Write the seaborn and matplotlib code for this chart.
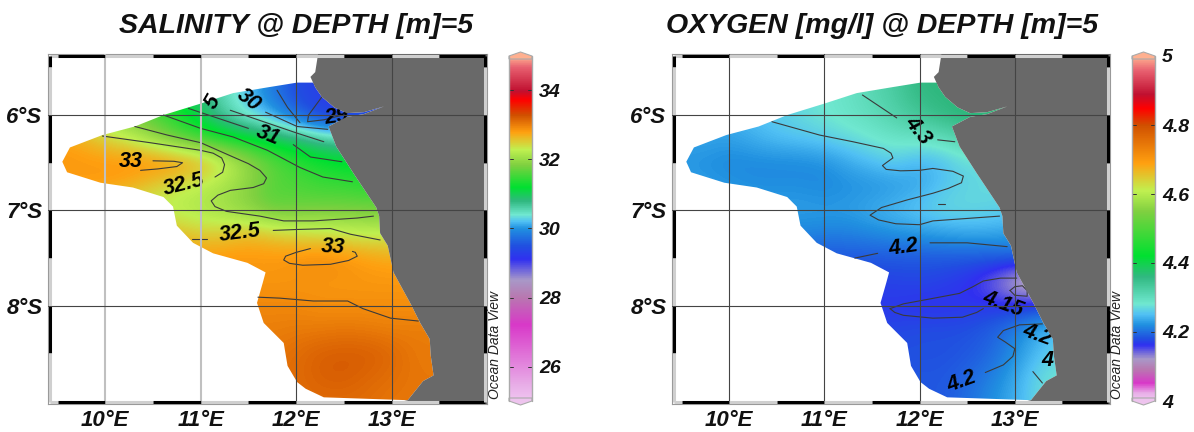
import numpy as np
import matplotlib
matplotlib.use('Agg')
import matplotlib.pyplot as plt
from matplotlib.colors import LinearSegmentedColormap, Normalize
from matplotlib.patches import Polygon
import seaborn as sns

sns.set_theme(style='white')
plt.rcParams['font.family'] = ['Liberation Sans', 'DejaVu Sans']

W, H = 1194, 432

# grid the two fields were read on
lons = [9.5, 9.75, 10, 10.25, 10.5, 10.75, 11, 11.25, 11.5, 11.75, 12, 12.25, 12.5, 12.75, 13, 13.25, 13.5]
lats = [-5.5, -5.75, -6, -6.25, -6.5, -6.75, -7, -7.25, -7.5, -7.75, -8, -8.25, -8.5, -8.75, -9]

salinity = [
    [31.3, 31.3, 31.3, 31.3, 31.2, 31.0, 30.7, 30.5, 30.2, 29.9, 29.5, 29.3, 29.3, 29.3, 29.3, 29.3, 29.3],
    [31.6, 31.6, 31.5, 31.5, 31.4, 31.2, 30.8, 30.5, 30.2, 29.8, 29.4, 29.3, 29.3, 29.3, 29.3, 29.3, 29.3],
    [32.3, 32.2, 32.0, 31.8, 31.6, 31.3, 31.0, 30.6, 30.3, 30.1, 29.7, 29.3, 29.2, 29.3, 29.3, 29.3, 29.3],
    [32.8, 32.7, 32.5, 32.3, 32.0, 31.7, 31.5, 31.3, 31.2, 31.0, 30.9, 30.7, 30.6, 30.6, 30.6, 30.6, 30.6],
    [32.85, 32.85, 32.85, 32.9, 32.95, 32.9, 32.75, 32.4, 32.0, 31.7, 31.45, 31.3, 31.2, 31.2, 31.2, 31.2, 31.2],
    [32.8, 32.8, 32.8, 32.7, 32.5, 32.35, 32.25, 32.1, 31.9, 31.6, 31.6, 31.5, 31.5, 31.4, 31.4, 31.4, 31.4],
    [32.6, 32.5, 32.4, 32.3, 32.3, 32.2, 32.15, 32.05, 31.9, 31.7, 31.75, 31.8, 31.8, 31.8, 31.8, 31.8, 31.8],
    [32.7, 32.7, 32.7, 32.7, 32.7, 32.65, 32.5, 32.55, 32.65, 32.55, 32.45, 32.4, 32.35, 32.3, 32.3, 32.3, 32.3],
    [32.8, 32.8, 32.8, 32.8, 32.85, 32.85, 32.85, 32.85, 32.85, 32.85, 32.9, 32.95, 32.9, 32.8, 32.75, 32.75, 32.75],
    [32.85, 32.85, 32.85, 32.85, 32.85, 32.85, 32.85, 32.85, 32.85, 32.85, 32.85, 32.85, 32.85, 32.85, 32.85, 32.85, 32.85],
    [32.95, 32.95, 32.95, 32.95, 32.95, 32.95, 32.95, 32.95, 32.95, 32.95, 32.95, 32.9, 32.9, 32.9, 32.9, 32.9, 32.9],
    [33.0, 33.0, 33.0, 33.0, 33.0, 33.0, 33.0, 33.0, 33.0, 33.0, 33.02, 33.03, 33.05, 33.03, 33.0, 33.02, 33.02],
    [33.05, 33.05, 33.05, 33.05, 33.05, 33.05, 33.05, 33.05, 33.05, 33.05, 33.12, 33.2, 33.22, 33.22, 33.15, 33.03, 33.03],
    [33.1, 33.1, 33.1, 33.1, 33.1, 33.1, 33.1, 33.1, 33.1, 33.1, 33.12, 33.2, 33.22, 33.15, 33.1, 33.05, 33.05],
    [33.1, 33.1, 33.1, 33.1, 33.1, 33.1, 33.1, 33.1, 33.1, 33.1, 33.12, 33.12, 33.12, 33.1, 33.05, 33.05, 33.05],
]

oxygen = [
    [4.25, 4.25, 4.26, 4.26, 4.26, 4.27, 4.28, 4.29, 4.31, 4.33, 4.36, 4.37, 4.37, 4.37, 4.37, 4.37, 4.37],
    [4.24, 4.24, 4.25, 4.25, 4.26, 4.27, 4.28, 4.29, 4.31, 4.33, 4.36, 4.36, 4.37, 4.37, 4.37, 4.37, 4.37],
    [4.23, 4.23, 4.24, 4.25, 4.26, 4.27, 4.28, 4.29, 4.30, 4.32, 4.34, 4.36, 4.37, 4.37, 4.37, 4.37, 4.37],
    [4.23, 4.235, 4.23, 4.24, 4.25, 4.255, 4.26, 4.27, 4.28, 4.29, 4.29, 4.30, 4.32, 4.32, 4.32, 4.32, 4.32],
    [4.225, 4.22, 4.215, 4.215, 4.215, 4.215, 4.22, 4.235, 4.25, 4.26, 4.24, 4.25, 4.27, 4.27, 4.27, 4.27, 4.27],
    [4.23, 4.23, 4.225, 4.22, 4.22, 4.22, 4.215, 4.22, 4.22, 4.225, 4.235, 4.255, 4.265, 4.27, 4.27, 4.27, 4.27],
    [4.23, 4.23, 4.23, 4.23, 4.23, 4.23, 4.23, 4.23, 4.24, 4.25, 4.26, 4.27, 4.27, 4.265, 4.26, 4.26, 4.26],
    [4.21, 4.21, 4.21, 4.21, 4.21, 4.215, 4.21, 4.21, 4.215, 4.22, 4.225, 4.23, 4.235, 4.235, 4.23, 4.23, 4.23],
    [4.185, 4.185, 4.185, 4.185, 4.185, 4.185, 4.185, 4.185, 4.185, 4.185, 4.185, 4.185, 4.185, 4.185, 4.19, 4.19, 4.19],
    [4.17, 4.17, 4.17, 4.17, 4.17, 4.17, 4.17, 4.17, 4.17, 4.172, 4.175, 4.17, 4.16, 4.14, 4.1, 4.08, 4.08],
    [4.165, 4.165, 4.165, 4.165, 4.165, 4.165, 4.165, 4.165, 4.165, 4.165, 4.16, 4.16, 4.165, 4.165, 4.165, 4.17, 4.17],
    [4.175, 4.175, 4.175, 4.175, 4.175, 4.175, 4.175, 4.175, 4.175, 4.175, 4.18, 4.18, 4.18, 4.19, 4.21, 4.24, 4.25],
    [4.18, 4.18, 4.18, 4.18, 4.18, 4.18, 4.18, 4.18, 4.18, 4.18, 4.18, 4.18, 4.185, 4.195, 4.22, 4.25, 4.27],
    [4.185, 4.185, 4.185, 4.185, 4.185, 4.185, 4.185, 4.185, 4.185, 4.185, 4.185, 4.185, 4.195, 4.21, 4.235, 4.27, 4.28],
    [4.185, 4.185, 4.185, 4.185, 4.185, 4.185, 4.185, 4.185, 4.185, 4.185, 4.185, 4.185, 4.2, 4.22, 4.24, 4.27, 4.28],
]

# coast from the north to the south, Congo mouth included
coast_lon = [12.20, 12.27, 12.40, 12.53, 12.71, 12.92, 12.71, 12.53, 12.34, 12.42, 12.60, 12.84, 12.87, 12.88, 12.96, 13.02,
             13.20, 13.30, 13.40, 13.41, 13.44, 13.33, 13.17]
coast_lat = [-5.71, -5.81, -5.92, -5.98, -5.97, -5.91, -5.99, -6.02, -6.12, -6.33, -6.61, -6.97, -7.06, -7.24, -7.37, -7.65,
             -7.98, -8.18, -8.35, -8.52, -8.73, -8.79, -8.99]
land_top_lon = [12.23, 12.20, 12.15]
land_top_lat = [-5.36, -5.55, -5.60]
# open sea edge of the sampled area, south end round to the north end
edge_lon = [12.29, 12.10, 12.01, 11.91, 11.87, 11.66, 11.59, 11.65, 11.68, 11.49, 11.13, 10.92, 10.75, 10.71, 10.61,
            10.29, 9.95, 9.60, 9.55, 9.63, 9.97, 10.31, 10.61, 11.0, 11.34, 11.70, 12.01, 12.18]
edge_lat = [-8.96, -8.87, -8.80, -8.63, -8.39, -8.18, -7.97, -7.76, -7.65, -7.55, -7.45, -7.34, -7.16, -6.96, -6.86,
            -6.76, -6.71, -6.60, -6.49, -6.34, -6.21, -6.12, -6.00, -5.88, -5.77, -5.71, -5.66, -5.66]

sal_lines = [
    ([9.97, 10.47, 11.0, 11.13, 11.22, 11.25, 11.23, 11.15], [-6.22, -6.29, -6.37, -6.40, -6.45, -6.52, -6.60, -6.65]),
    ([10.50, 10.72, 10.81, 10.75, 10.55, 10.37], [-6.48, -6.485, -6.50, -6.54, -6.565, -6.58]),
    ([10.31, 10.65, 11.0, 11.34, 11.50, 11.62, 11.69, 11.66, 11.55, 11.31, 11.18, 11.11, 11.15, 11.27, 11.62, 11.87, 12.18, 12.64, 12.81],
     [-6.12, -6.21, -6.29, -6.44, -6.51, -6.58, -6.66, -6.72, -6.76, -6.79, -6.84, -6.90, -6.96, -7.01, -7.06, -7.11, -7.11, -7.08, -7.06]),
    ([10.61, 11.0, 11.34, 11.70, 12.04, 12.28, 12.59], [-6.0, -6.14, -6.23, -6.37, -6.55, -6.65, -6.70]),
    ([10.87, 11.17, 11.50], [-5.93, -6.03, -6.14]),
    ([11.97, 12.15, 12.48], [-6.31, -6.44, -6.49]),
    ([11.31, 11.60, 12.01, 12.29], [-5.95, -6.05, -6.19, -6.28]),
    ([11.68, 12.01, 12.33], [-5.97, -6.12, -6.15]),
    ([11.80, 11.91, 12.04], [-5.74, -5.92, -6.08]),
    ([12.27, 12.13, 12.12, 12.29, 12.49], [-5.81, -6.0, -6.07, -6.05, -6.0]),
    ([10.91, 11.07], [-7.30, -7.30]),
    ([11.76, 12.01, 12.36, 12.57, 12.88], [-7.21, -7.20, -7.19, -7.25, -7.31]),
    ([12.15, 12.0, 11.89, 11.87, 11.93, 12.07, 12.36, 12.55, 12.64, 12.62, 12.59],
     [-7.40, -7.44, -7.48, -7.52, -7.555, -7.575, -7.565, -7.525, -7.48, -7.44, -7.43]),
    ([11.60, 11.83, 12.18, 12.54, 12.70, 12.99, 13.28], [-7.91, -7.92, -7.95, -7.95, -8.03, -8.13, -8.16]),
]
oxy_lines = [
    ([11.40, 11.76], [-5.79, -6.03]),
    ([10.45, 10.95, 11.30, 11.62, 11.70, 11.72, 11.65, 11.61, 11.65, 11.80, 12.0, 12.14, 12.35, 12.46, 12.44, 12.3, 12.14, 11.87, 11.6,
      11.48, 11.57, 11.75, 12.0, 12.14, 12.84],
     [-6.07, -6.21, -6.28, -6.35, -6.40, -6.45, -6.50, -6.53, -6.57, -6.585, -6.58, -6.56, -6.59, -6.64, -6.71, -6.77, -6.82, -6.89, -6.97,
      -7.05, -7.10, -7.14, -7.15, -7.11, -7.06]),
    ([12.19, 12.37], [-6.26, -6.28]),
    ([11.32, 11.56], [-7.50, -7.45]),
    ([12.11, 12.50, 12.92], [-7.34, -7.34, -7.38]),
    ([11.69, 11.83, 12.1, 12.42, 12.56, 12.67, 12.85, 13.02], [-8.03, -7.98, -7.93, -7.87, -7.80, -7.74, -7.71, -7.71]),
    ([11.69, 11.74, 11.83, 12.14, 12.45, 12.6, 12.67], [-8.03, -8.07, -8.10, -8.13, -8.12, -8.07, -8.03]),
    ([12.95, 13.0, 13.08, 13.13, 13.13, 13.0, 12.95], [-7.84, -7.80, -7.79, -7.84, -7.90, -7.89, -7.84]),
    ([13.29, 13.05, 12.88, 12.82, 12.90, 13.0, 12.98, 12.88, 12.69], [-8.19, -8.20, -8.26, -8.33, -8.38, -8.45, -8.53, -8.62, -8.70]),
    ([13.19, 13.29], [-8.69, -8.81]),
]
oxy_dash = ([12.19, 12.27], [-6.93, -6.93])

# lon, lat, text, angle
sal_labels = [(10.27, -6.49, '33', 0), (10.82, -6.73, '32.5', 14), (11.41, -7.24, '32.5', 7), (12.39, -7.39, '33', -3),
              (11.71, -6.21, '31', -22), (11.50, -5.84, '30', -38), (11.13, -5.86, '5', 60), (12.42, -6.02, '29', 8)]
oxy_labels = [(11.98, -6.16, '4.3', -52), (11.83, -7.39, '4.2', 8), (12.88, -7.98, '4.15', -20),
              (13.24, -8.31, '4.2', -20), (13.34, -8.57, '4', 0), (12.44, -8.80, '4.2', 20)]

# colour stops, the two scales share colours but not positions
stop_colors = ['#f0c4f0', '#e8b0e8', '#d838c8', '#b878b0', '#a898c8', '#3030f0', '#2050e0', '#2090e0', '#50c0f4', '#70e8d0',
               '#30b880', '#00e030', '#80d040', '#c0f050', '#ffa010', '#d05000', '#ff0000', '#c01030', '#e86070', '#ffb090']
sal_stops = [25, 25.4, 27.2, 28, 28.5, 29.1, 29.5, 30, 30.2, 30.4, 30.8, 31.2, 31.85, 32.3, 32.8, 33.3, 33.75, 34, 34.7, 35]
oxy_stops = [4, 4.02, 4.05, 4.09, 4.12, 4.16, 4.18, 4.22, 4.25, 4.28, 4.36, 4.42, 4.55, 4.61, 4.69, 4.80, 4.85, 4.89, 4.96, 5]
sal_ticks = [26, 28, 30, 32, 34]
oxy_ticks = [4, 4.2, 4.4, 4.6, 4.8, 5]
lon_ticks = [10, 11, 12, 13]
lat_ticks = [-6, -7, -8]
xlim = (9.40, 14.0)
ylim = (-9.03, -5.36)


def box(x0, y0, x1, y1):
    return [x0 / W, 1 - y1 / H, (x1 - x0) / W, (y1 - y0) / H]


def make_cmap(stops):
    lo, hi = stops[0], stops[-1]
    return LinearSegmentedColormap.from_list('odv', [((s - lo) / (hi - lo), c) for s, c in zip(stops, stop_colors)], N=512)


def draw_map(ax, field, stops, lines, labels, light_lons):
    cmap = make_cmap(stops)
    norm = Normalize(stops[0], stops[-1])
    sea = Polygon(np.column_stack([coast_lon + edge_lon, coast_lat + edge_lat]), closed=True, fc='none', ec='none')
    ax.add_patch(sea)
    im = ax.imshow(np.array(field), extent=(9.375, 13.625, -9.125, -5.375), aspect='auto', interpolation='bicubic',
                   interpolation_stage='data', cmap=cmap, norm=norm, zorder=1)
    im.set_clip_path(sea)

    for lx, ly in lines:
        sns.lineplot(x=lx, y=ly, sort=False, estimator=None, color='#3a3a3a', lw=0.8, ax=ax, zorder=2)
    for lx, ly, s, rot in labels:
        ax.text(lx, ly, s, fontsize=15.5, fontweight='bold', fontstyle='italic', color='black', rotation=rot,
                rotation_mode='anchor', ha='center', va='center', zorder=3)

    land_x = land_top_lon + coast_lon + [13.0, 14.0, 14.0]
    land_y = land_top_lat + coast_lat + [-9.03, -9.03, -5.36]
    ax.add_patch(Polygon(np.column_stack([land_x, land_y]), closed=True, fc='#696969', ec='none', zorder=4))

    for v in lon_ticks:
        if v in light_lons:
            ax.axvline(v, color='#c0c0c0', lw=1.5, zorder=5)
        else:
            ax.axvline(v, color='#444444', lw=0.8, zorder=5)
    for v in lat_ticks:
        ax.axhline(v, color='#444444', lw=0.8, zorder=5)

    ax.set_xlabel('')
    ax.set_ylabel('')
    ax.set_xticks(lon_ticks, [f'{v}°E' for v in lon_ticks])
    ax.set_yticks(lat_ticks, [f'{-v}°S' for v in lat_ticks])
    ax.tick_params(length=0, pad=4)
    for lab in ax.get_xticklabels() + ax.get_yticklabels():
        lab.set(fontsize=16, fontweight='bold', fontstyle='italic', color='#111111')
    for sp in ax.spines.values():
        sp.set_color('#999999')
        sp.set_linewidth(0.8)

    # alternating scale bars on all four sides, half a degree each
    dx, dy = 0.022, 0.022
    xs = [xlim[0] + dx, 9.5, 10, 10.5, 11, 11.5, 12, 12.5, 13, 13.5, xlim[1] - dx]
    ys = [ylim[1] - dy, -5.5, -6, -6.5, -7, -7.5, -8, -8.5, ylim[0] + dy]
    for i in range(len(xs) - 1):
        c = 'black' if i % 2 == 1 else '#cfcfcf'
        ax.plot(xs[i:i + 2], [ylim[1] - dy] * 2, color=c, lw=2.2, solid_capstyle='butt', zorder=6)
        ax.plot(xs[i:i + 2], [ylim[0] + dy] * 2, color=c, lw=2.2, solid_capstyle='butt', zorder=6)
    for i in range(len(ys) - 1):
        c = 'black' if i % 2 == 0 else '#cfcfcf'
        ax.plot([xlim[0] + dx] * 2, ys[i:i + 2], color=c, lw=2.2, solid_capstyle='butt', zorder=6)
        ax.plot([xlim[1] - dx] * 2, ys[i:i + 2], color=c, lw=2.2, solid_capstyle='butt', zorder=6)
    ax.set_xlim(xlim)
    ax.set_ylim(ylim)


def draw_cbar(cax, stops, ticks, fmt):
    n = 345
    lo, hi = stops[0], stops[-1]
    band = np.linspace(lo, hi, n).reshape(-1, 1)
    sns.heatmap(band, cmap=make_cmap(stops), vmin=lo, vmax=hi, cbar=False, xticklabels=False, yticklabels=False, ax=cax)
    mesh = cax.collections[0]
    mesh.set_antialiased(False)
    mesh.set_edgecolor('face')
    mesh.set_linewidth(0)
    cax.set_ylim(0, n)
    cap = 4
    cax.add_patch(Polygon([[0, n], [0.5, n + cap], [1, n], [1, n - 3], [0, n - 3]], closed=True, fc='#ffb090',
                          ec='#aaaaaa', lw=0.8, clip_on=False, zorder=3))
    cax.add_patch(Polygon([[0, 0], [0.5, -cap], [1, 0], [1, 3], [0, 3]], closed=True, fc='#eec4ee',
                          ec='#aaaaaa', lw=0.8, clip_on=False, zorder=3))
    cax.plot([0, 0], [0, n], color='#aaaaaa', lw=1.0, clip_on=False, zorder=4)
    cax.plot([1, 1], [0, n], color='#aaaaaa', lw=1.0, clip_on=False, zorder=4)
    pos = [(t - lo) / (hi - lo) * n for t in ticks]
    for p, t in zip(pos, ticks):
        if t not in (lo, hi):
            cax.plot([0, 0.18], [p, p], color='#333333', lw=0.7)
            cax.plot([0.82, 1], [p, p], color='#333333', lw=0.7)
    cax.yaxis.tick_right()
    cax.set_yticks(pos, [fmt(t) for t in ticks], rotation=0)
    cax.tick_params(length=0, pad=5, right=False)
    for lab in cax.get_yticklabels():
        lab.set(fontsize=14, fontweight='bold', fontstyle='italic', color='#111111')
    for sp in cax.spines.values():
        sp.set_visible(False)


fig = plt.figure(figsize=(W / 100, H / 100), dpi=100, facecolor='white')

ax1 = fig.add_axes(box(48, 54, 487, 404))
draw_map(ax1, salinity, sal_stops, sal_lines, sal_labels, [10, 11])
ax2 = fig.add_axes(box(672, 54, 1110, 404))
draw_map(ax2, oxygen, oxy_stops, oxy_lines + [oxy_dash], oxy_labels, [])

cax1 = fig.add_axes(box(509, 56, 532, 401))
draw_cbar(cax1, sal_stops, sal_ticks, lambda t: str(t))
cax2 = fig.add_axes(box(1132, 56, 1155, 401))
draw_cbar(cax2, oxy_stops, oxy_ticks, lambda t: f'{t:g}')

for px, s in ((296, 'SALINITY @ DEPTH [m]=5'), (882, 'OXYGEN [mg/l] @ DEPTH [m]=5')):
    fig.text(px / W, 1 - 26 / H, s, ha='center', va='center', fontsize=20.5, fontweight='bold', fontstyle='italic',
             color='#111111')
for px in (495, 1117):
    fig.text(px / W, 1 - 345 / H, 'Ocean Data View', rotation=90, ha='center', va='center', fontsize=10,
             fontstyle='italic', color='#222222')

fig.savefig('out.png', dpi=100)
